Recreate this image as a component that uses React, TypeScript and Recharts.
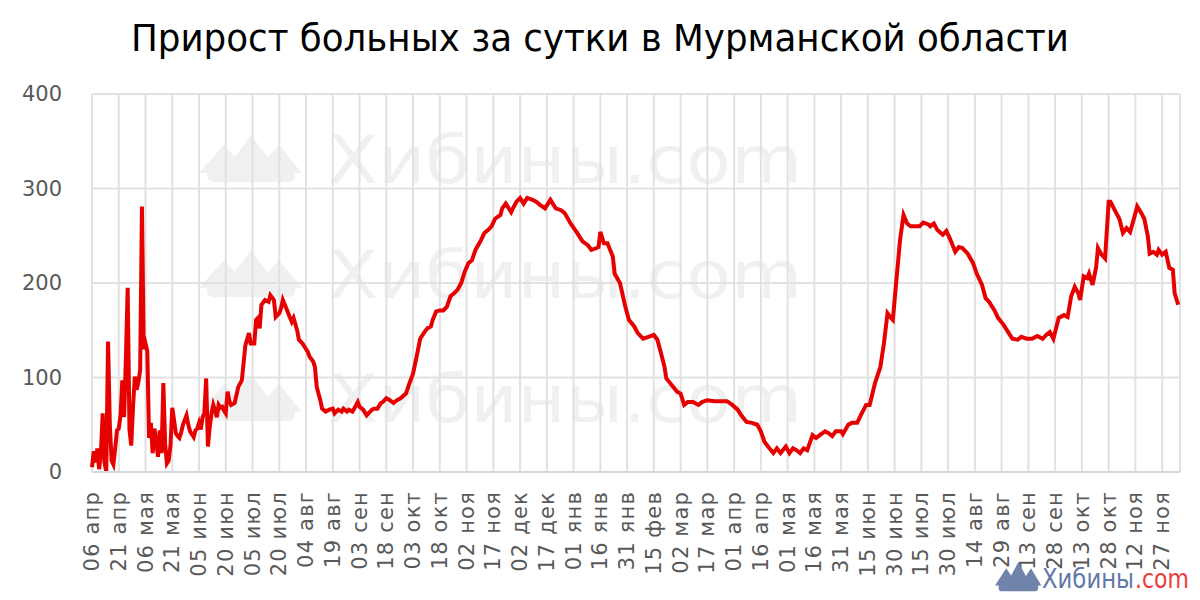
import React from 'react';
import { LineChart, Line, XAxis, YAxis, CartesianGrid } from 'recharts';

const chartTitle = 'Прирост больных за сутки в Мурманской области';
const watermarkText = 'Хибины';
const watermarkDomain = '.com';

const tickLabels = ['06 апр','21 апр','06 мая','21 мая','05 июн','20 июн','05 июл','20 июл','04 авг','19 авг','03 сен','18 сен','03 окт','18 окт','02 ноя','17 ноя','02 дек','17 дек','01 янв','16 янв','31 янв','15 фев','02 мар','17 мар','01 апр','16 апр','01 мая','16 мая','31 мая','15 июн','30 июн','15 июл','30 июл','14 авг','29 авг','13 сен','28 сен','13 окт','28 окт','12 ноя','27 ноя'];
const tickDays = [0,15,30,45,60,75,90,105,120,135,150,165,180,195,210,225,240,255,270,285,300,315,330,345,360,375,390,405,420,435,450,465,480,495,510,525,540,555,570,585,600];
const yTicks = [0, 100, 200, 300, 400];

// day offset from 06 апр 2020
const dayIndex = [0,1,2,3,4,5,6,7,8,9,10,11,12,13,14,15,16,17,18,19,20,21,22,23,24,25,26,27,28,29,30,31,32,33,34,35,36,37,38,39,40,41,42,43,44,45,46,47,48,49,50,51,52,53,54,55,56,57,58,59,60,61,62,63,64,65,66,67,68,69,70,71,72,73,74,75,76,77,78,79,80,82,84,86,88,89,91,92,93,94,95,97,99,100,102,103,105,106,107,109,110,112,113,115,116,118,121,122,124,125,126,128,129,131,133,135,136,138,140,141,143,144,146,147,149,150,152,154,155,157,158,160,162,163,165,167,169,171,173,176,178,180,182,184,186,188,190,191,193,195,197,199,201,203,205,207,209,211,213,215,218,220,222,224,226,229,230,232,235,236,238,240,242,244,247,249,251,254,257,260,263,265,268,272,275,278,280,283,284,285,287,289,292,293,296,299,301,304,306,309,312,315,317,319,321,322,325,328,330,332,334,337,340,342,345,349,352,356,359,362,364,367,370,373,375,377,379,382,384,386,389,391,393,395,397,399,401,404,406,408,411,413,415,417,420,421,424,426,429,431,434,436,439,442,444,446,448,449,451,453,455,457,459,462,464,466,469,470,472,474,477,479,481,484,486,488,491,494,496,499,501,503,506,508,511,514,516,519,521,524,527,530,533,535,537,539,542,545,547,549,551,553,554,556,558,559,561,563,564,566,568,570,571,574,576,578,580,582,584,586,588,590,592,593,595,597,598,600,602,604,606,607,609];
const newCases = [5,22,10,25,3,20,62,10,0,138,50,12,8,25,44,46,60,97,58,120,195,45,28,69,101,87,95,108,281,130,136,128,36,52,20,46,32,16,44,20,94,30,9,12,28,68,55,41,38,36,42,50,55,60,50,43,40,37,44,46,52,45,58,62,99,27,48,62,71,65,58,71,68,69,65,62,85,75,71,72,73,90,97,134,147,136,136,161,163,152,177,182,180,187,182,164,168,173,182,173,168,159,163,150,140,136,127,122,117,111,90,76,67,64,66,67,62,66,64,67,64,66,64,67,74,69,66,60,62,66,67,67,73,74,78,76,73,76,78,83,94,104,122,141,147,152,154,161,170,171,171,175,186,189,193,200,212,221,224,235,245,253,256,260,268,272,279,284,275,279,286,290,284,290,288,286,283,279,288,279,277,274,264,253,244,240,235,237,238,254,242,242,228,210,200,175,161,154,147,141,143,145,140,126,111,99,92,85,83,71,74,74,71,74,76,75,75,75,71,66,60,53,52,50,43,32,27,20,25,20,27,20,25,23,20,25,23,39,36,39,43,41,38,43,43,40,50,52,52,60,71,71,94,111,136,168,163,161,203,245,272,263,260,260,260,264,262,260,263,256,251,255,247,233,238,237,231,221,210,198,184,180,171,163,156,147,141,140,143,141,141,144,141,145,148,141,163,166,164,186,196,189,182,207,205,210,198,217,237,230,226,286,286,275,268,253,258,254,267,281,275,268,249,231,233,230,235,230,233,216,214,189,177];

const chartData = dayIndex.map((d, i) => ({ day: d, cases: newCases[i] }));

const XTick = (props: any) => {
  const { x, y, payload } = props;
  const idx = tickDays.indexOf(payload.value);
  const label = idx >= 0 ? tickLabels[idx] : '';
  return (
    <text
      x={x}
      y={y}
      transform={`rotate(-90 ${x} ${y})`}
      textAnchor="end"
      dominantBaseline="central"
      fill="#595959"
      fontSize={21}
      letterSpacing={1.2}
      fontFamily="DejaVu Sans"
    >
      {label}
    </text>
  );
};

const Mountains = ({ x, y, fill, sx = 1, sy = 1 }: { x: number; y: number; fill: string; sx?: number; sy?: number }) => (
  <g fill={fill} transform={`translate(${x} ${y}) scale(${sx} ${sy})`}>
    <polygon points="0,38 25,10 50,38" />
    <polygon points="24,38 52,0 80,38" />
    <polygon points="55,38 80,10 103,38" />
    <rect x={8} y={34} width={88} height={13} rx={6} />
  </g>
);

const watermarkRows = [183, 298, 422];

export default function App() {
  return (
    <div style={{ position: 'absolute', left: 0, top: 0, width: 1200, height: 600, background: '#fff', overflow: 'hidden' }}>
      <svg width={1200} height={600} style={{ position: 'absolute', left: 0, top: 0 }}>
        {watermarkRows.map((b) => (
          <g key={b}>
            <Mountains x={199} y={b - 48} fill="#f0f0f0" />
            <text x={328} y={b} fontFamily="DejaVu Sans" fontSize={66} fill="#f0f0f0" textLength={474} lengthAdjust="spacingAndGlyphs">
              {watermarkText + watermarkDomain}
            </text>
          </g>
        ))}
      </svg>
      <div style={{ position: 'absolute', left: 0, top: 0 }}>
        <LineChart width={1200} height={600} data={chartData} margin={{ top: 94, right: 20, left: 32, bottom: 8 }}>
          <CartesianGrid stroke="#e1e1e1" strokeWidth={2} />
          <XAxis
            dataKey="day"
            type="number"
            domain={[0, 610]}
            ticks={tickDays}
            interval={0}
            height={120}
            tickLine={false}
            tickSize={0}
            tickMargin={19}
            axisLine={{ stroke: '#d3d8e0', strokeWidth: 2 }}
            tick={<XTick />}
          />
          <YAxis
            type="number"
            domain={[0, 400]}
            ticks={yTicks}
            width={60}
            tickLine={false}
            tickSize={0}
            tickMargin={30}
            axisLine={false}
            tick={{ fill: '#595959', fontSize: 21, fontFamily: 'DejaVu Sans' }}
          />
          <Line
            type="linear"
            dataKey="cases"
            stroke="#e60000"
            strokeWidth={4}
            dot={false}
            isAnimationActive={false}
          />
        </LineChart>
      </div>
      <svg width={1200} height={600} style={{ position: 'absolute', left: 0, top: 0, pointerEvents: 'none' }}>
        <text x={600} y={51} textAnchor="middle" fontFamily="DejaVu Sans Condensed" fontSize={38} fill="#000" textLength={938} lengthAdjust="spacingAndGlyphs">
          {chartTitle}
        </text>
        <Mountains x={995} y={562} fill="#6f83ab" sx={0.45} sy={0.62} />
        <text x={1042} y={588} fontFamily="DejaVu Sans" fontSize={27} fill="#5f78a8" textLength={92} lengthAdjust="spacingAndGlyphs">
          {watermarkText}
        </text>
        <text x={1135} y={588} fontFamily="DejaVu Sans" fontSize={27} fill="#ee3b3b" textLength={54} lengthAdjust="spacingAndGlyphs">
          {watermarkDomain}
        </text>
      </svg>
    </div>
  );
}
